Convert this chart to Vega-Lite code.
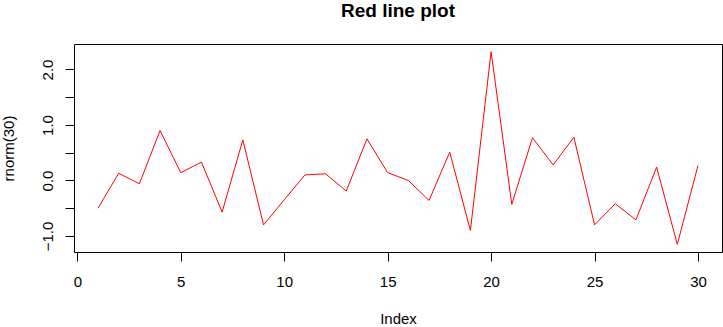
{
  "$schema": "https://vega.github.io/schema/vega-lite/v6.json",
  "width": 648,
  "height": 208,
  "autosize": {"type": "none"},
  "padding": {"left": 74, "top": 44, "right": 1, "bottom": 75},
  "background": "white",
  "title": {
    "text": "Red line plot",
    "font": "Liberation Sans",
    "fontSize": 19,
    "fontWeight": "bold",
    "color": "black",
    "anchor": "middle",
    "frame": "group",
    "baseline": "bottom",
    "offset": 4
  },
  "config": {
    "view": {"stroke": "black", "strokeWidth": 1},
    "axis": {
      "grid": false,
      "domain": false,
      "tickColor": "black",
      "tickSize": 9,
      "labelColor": "black",
      "titleColor": "black",
      "labelFont": "Liberation Sans",
      "titleFont": "Liberation Sans",
      "labelFontSize": 15,
      "titleFontSize": 15,
      "titleFontWeight": "normal"
    }
  },
  "data": {
    "values": [
      {"i": 1, "v": -0.50}, {"i": 2, "v": 0.13}, {"i": 3, "v": -0.06},
      {"i": 4, "v": 0.90}, {"i": 5, "v": 0.14}, {"i": 6, "v": 0.33},
      {"i": 7, "v": -0.57}, {"i": 8, "v": 0.73}, {"i": 9, "v": -0.80},
      {"i": 10, "v": -0.35}, {"i": 11, "v": 0.10}, {"i": 12, "v": 0.12},
      {"i": 13, "v": -0.19}, {"i": 14, "v": 0.75}, {"i": 15, "v": 0.14},
      {"i": 16, "v": 0.00}, {"i": 17, "v": -0.36}, {"i": 18, "v": 0.51},
      {"i": 19, "v": -0.90}, {"i": 20, "v": 2.32}, {"i": 21, "v": -0.43},
      {"i": 22, "v": 0.77}, {"i": 23, "v": 0.28}, {"i": 24, "v": 0.78},
      {"i": 25, "v": -0.80}, {"i": 26, "v": -0.42}, {"i": 27, "v": -0.71},
      {"i": 28, "v": 0.24}, {"i": 29, "v": -1.15}, {"i": 30, "v": 0.27}
    ]
  },
  "mark": {"type": "line", "color": "#ff0000", "strokeWidth": 1},
  "encoding": {
    "x": {
      "field": "i",
      "type": "quantitative",
      "title": "Index",
      "scale": {"domain": [-0.16, 31.16], "nice": false, "zero": false},
      "axis": {
        "values": [0, 5, 10, 15, 20, 25, 30],
        "labelPadding": 13,
        "labelBaseline": "top",
        "titlePadding": 22,
        "labelFlush": false
      }
    },
    "y": {
      "field": "v",
      "type": "quantitative",
      "title": "rnorm(30)",
      "scale": {"domain": [-1.289, 2.459], "nice": false, "zero": false},
      "axis": {
        "values": [-1, -0.5, 0, 0.5, 1, 1.5, 2],
        "labelExpr": "datum.value % 1 === 0 ? format(datum.value, '.1f') : ''",
        "labelAngle": -90,
        "labelAlign": "center",
        "labelBaseline": "bottom",
        "labelPadding": 10,
        "labelFlush": false,
        "titlePadding": 24
      }
    }
  }
}
